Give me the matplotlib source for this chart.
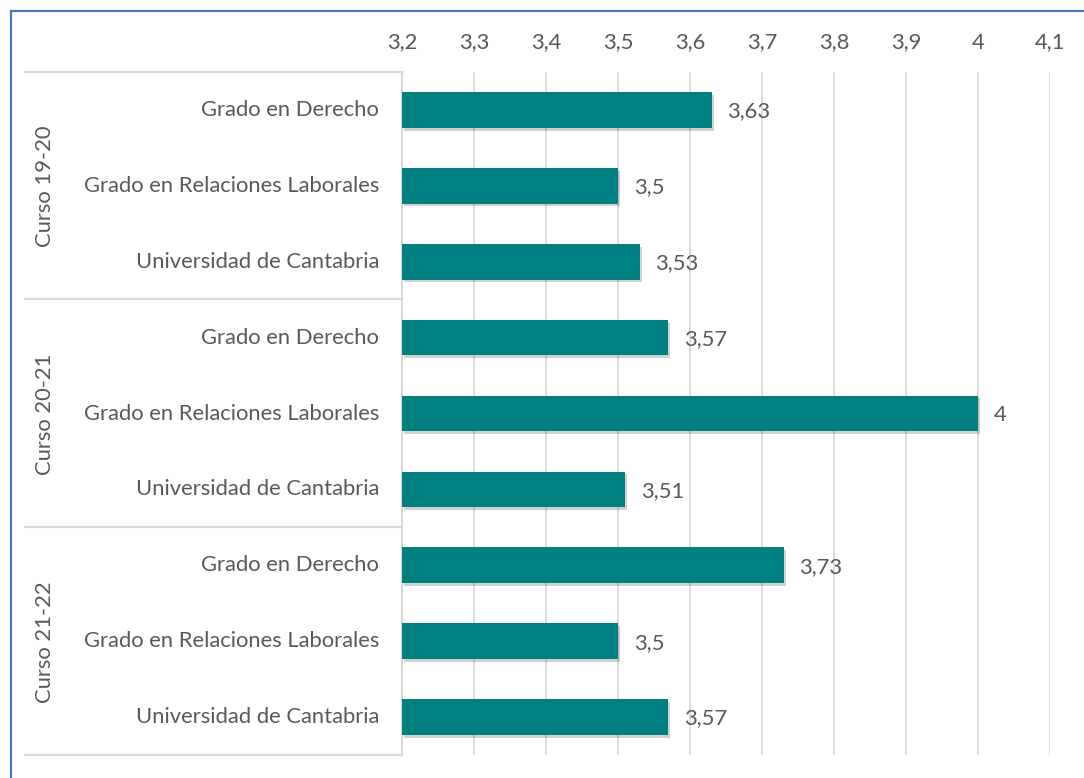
import matplotlib.pyplot as plt
import matplotlib.patheffects as pe
from matplotlib.lines import Line2D

cursos = ['Curso 19-20', 'Curso 20-21', 'Curso 21-22']
titulaciones = ['Grado en Derecho', 'Grado en Relaciones Laborales', 'Universidad de Cantabria']
valores = [3.63, 3.50, 3.53,
           3.57, 4.00, 3.51,
           3.73, 3.50, 3.57]
ticks = [3.2, 3.3, 3.4, 3.5, 3.6, 3.7, 3.8, 3.9, 4.0, 4.1]

plt.rcParams['font.family'] = ['Lato', 'DejaVu Sans']
gris = '#595959'
linea = '#d9d9d9'
fs = 15.8

W, H = 1084, 778
fig = plt.figure(figsize=(W / 100, H / 100), dpi=100)
ax = fig.add_axes([402 / W, 1 - 755 / H, (1050 - 402) / W, (755 - 72) / H])

n = len(valores)
pos = list(range(n))
bars = ax.barh(pos, [v - 3.2 for v in valores], left=3.2, height=0.47, color='#008080', zorder=3)
for b in bars:
    b.set_path_effects([pe.SimplePatchShadow(offset=(1.5, -2), shadow_rgbFace='#000000', alpha=0.18), pe.Normal()])

for p, v in zip(pos, valores):
    txt = ('%g' % v).replace('.', ',')
    ax.text(v + 0.022, p + 0.02, txt, va='center', ha='left', fontsize=fs, color=gris)

ax.set_xlim(3.2, 4.1)
ax.set_ylim(n - 0.5, -0.5)
ax.set_xticks(ticks)
ax.set_xticklabels([('%g' % t).replace('.', ',') for t in ticks], fontsize=fs, color=gris)
ax.xaxis.tick_top()
ax.tick_params(axis='x', length=0, pad=14)
ax.set_yticks([])
ax.grid(axis='x', color=linea, linewidth=1.3, zorder=0)
for s in ['top', 'right', 'bottom']:
    ax.spines[s].set_visible(False)
ax.spines['left'].set_color(linea)
ax.spines['left'].set_linewidth(1.5)

# etiquetas de categorias
for i in range(n):
    ax.text(-23 / 648, i, titulaciones[i % 3], transform=ax.get_yaxis_transform(),
            ha='right', va='center', fontsize=fs, color=gris)

# separadores de grupo y nombres de curso
x0 = 25 / W
xa = 402 / W
for k, c in enumerate(cursos):
    yc = 1 - (72 + (k * 3 + 1.5) * 76) / H
    fig.text(45 / W, yc, c, rotation=90, ha='center', va='center', fontsize=fs, color=gris)
for yb in [72, 299, 527, 755]:
    yy = 1 - yb / H
    fig.add_artist(Line2D([x0, xa], [yy, yy], color=linea, linewidth=1.5))

# marco azul
fig.add_artist(Line2D([11 / W, 11 / W], [0, 1 - 11 / H], color='#4472C4', linewidth=1.5))
fig.add_artist(Line2D([11 / W, 1083 / W], [1 - 11 / H, 1 - 11 / H], color='#4472C4', linewidth=1.5))

fig.savefig('out.png', dpi=100)
